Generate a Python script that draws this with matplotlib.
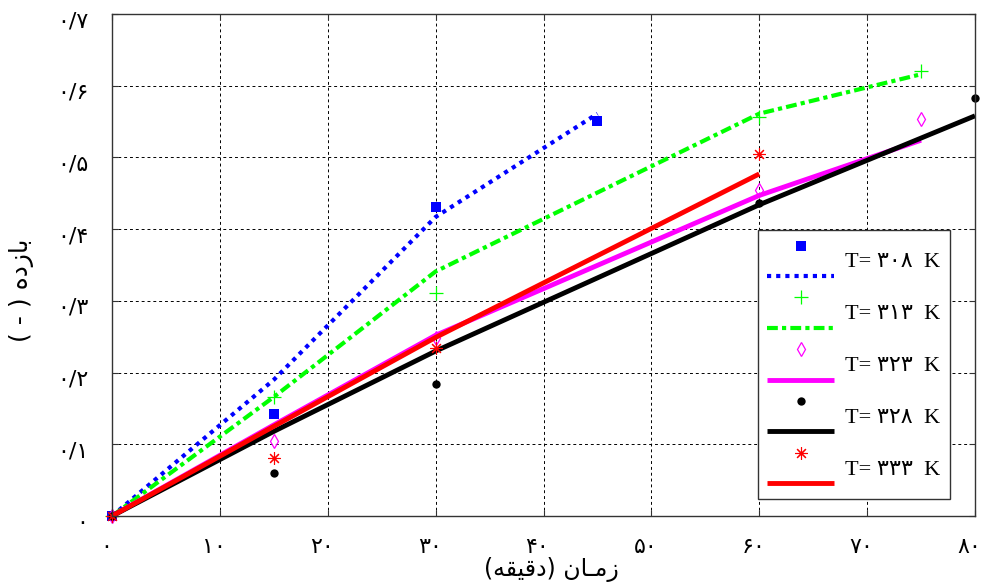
import numpy as np
import matplotlib
matplotlib.use('Agg')
import matplotlib.pyplot as plt
from matplotlib.lines import Line2D
from matplotlib.legend_handler import HandlerBase
from matplotlib.transforms import ScaledTranslation

# ---------- data ----------
t_308 = [0, 15, 30, 45]
exp_308 = [0, 0.142, 0.431, 0.551]
fit_308 = [0, 0.190, 0.417, 0.561]

t_313 = [0, 15, 30, 60, 75]
exp_313 = [0, 0.166, 0.311, 0.556, 0.621]
fit_313 = [0, 0.166, 0.341, 0.561, 0.616]

t_323 = [0, 15, 30, 60, 75]
exp_323 = [0, 0.104, 0.248, 0.454, 0.554]
fit_323 = [0, 0.127, 0.252, 0.447, 0.524]

t_328 = [0, 15, 30, 60, 80]
exp_328 = [0, 0.060, 0.184, 0.436, 0.583]
fit_328 = [0, 0.118, 0.230, 0.434, 0.558]

t_333 = [0, 15, 30, 60]
exp_333 = [0, 0.081, 0.234, 0.505]
fit_333 = [0, 0.125, 0.249, 0.477]

legend_labels = ['T= ۳۰۸  K', 'T= ۳۱۳  K', 'T= ۳۲۳  K', 'T= ۳۲۸  K', 'T= ۳۳۳  K']

x_ticks = [0, 10, 20, 30, 40, 50, 60, 70, 80]
x_tick_labels = ['۰', '۱۰', '۲۰', '۳۰', '۴۰', '۵۰', '۶۰', '۷۰', '۸۰']
y_ticks = [0, 0.1, 0.2, 0.3, 0.4, 0.5, 0.6, 0.7]
y_tick_labels = ['۰', '۰/۱', '۰/۲', '۰/۳', '۰/۴', '۰/۵', '۰/۶', '۰/۷']

# matplotlib has no bidi/shaping, so the Persian labels are written
# in visual order with presentation forms
x_label = '(\uFEEA\uFED8\uFEF4\uFED7\uFEA9) \uFEE5\uFE8E\u0640\uFEE3\uFEAF'   # زمان (دقیقه)
y_label = '( - ) \uFEE9\uFEA9\uFEAF\uFE8E\uFE91'                              # بازده ( - )


class MarkerAboveLine(HandlerBase):
    # MATLAB style legend entry: marker on one row, line on the next
    def create_artists(self, legend, orig_handle, xdescent, ydescent,
                       width, height, fontsize, trans):
        mk, ln = orig_handle
        x0, y0 = -xdescent, -ydescent
        a = Line2D([x0 + width / 2], [y0 + height * 0.855])
        a.update_from(mk)
        a.set_linestyle('none')
        a.set_clip_on(False)
        a.set_transform(trans)
        b = Line2D([x0, x0 + width], [y0 + height * 0.145] * 2)
        b.update_from(ln)
        b.set_marker('none')
        b.set_transform(trans)
        return [a, b]


fig = plt.figure(figsize=(9.82, 5.87), dpi=100)
ax = fig.add_axes([112 / 982, 1 - 516 / 587, 863 / 982, 502 / 587])

series = [
    (t_308, exp_308, fit_308, dict(color='#0000ff', marker='s', ms=7, mfc='#0000ff', mew=0),
     dict(color='#0000ff', lw=3, ls=(0, (1, 1.2)))),
    (t_313, exp_313, fit_313, dict(color='#00ff00', marker='+', ms=10, mew=0.9),
     dict(color='#00ff00', lw=3, ls=(0, (2.6, 1, 1, 1)))),
    (t_323, exp_323, fit_323, dict(color='#ff00ff', marker='d', ms=7, mfc='none', mew=0.9),
     dict(color='#ff00ff', lw=3.5, ls='-')),
    (t_328, exp_328, fit_328, dict(color='black', marker='o', ms=6, mfc='black', mew=0),
     dict(color='black', lw=3.5, ls='-')),
    (t_333, exp_333, fit_333, dict(color='#ff0000', marker=(8, 2, 0), ms=9, mew=0.8),
     dict(color='#ff0000', lw=3.5, ls='-')),
]

handles = []
for t, ye, yf, mkw, lkw in series:
    mk, = ax.plot(t, ye, linestyle='none', clip_on=False, **mkw)
    ln, = ax.plot(t, yf, solid_capstyle='butt', **lkw)
    handles.append((mk, ln))

ax.set_xlim(0, 80)
ax.set_ylim(0, 0.7)
ax.set_xticks(x_ticks)
ax.set_xticklabels(x_tick_labels, family=['DejaVu Sans'], fontsize=16)
ax.set_yticks(y_ticks)
ax.set_yticklabels(y_tick_labels, family=['DejaVu Sans'], fontsize=16)
ax.tick_params(direction='in', length=4, width=0.8, top=True, right=True, color='#333333')
ax.tick_params(axis='y', pad=17)
ax.tick_params(axis='x', pad=15)

for lab in ax.get_yticklabels():
    lab.set_transform(lab.get_transform() + ScaledTranslation(0, -0.05, fig.dpi_scale_trans))
for lab in ax.get_xticklabels():
    lab.set_transform(lab.get_transform() + ScaledTranslation(-0.06, 0, fig.dpi_scale_trans))

ax.grid(True, color='black', linestyle=(0, (3, 3)), linewidth=0.7)
ax.set_axisbelow(True)
for s in ax.spines.values():
    s.set_color('#333333')
    s.set_linewidth(1)

fig.text(551 / 982, 1 - 569 / 587, x_label, ha='center', va='center',
         family=['DejaVu Sans'], fontsize=17)
fig.text(22 / 982, 1 - 290 / 587, y_label, ha='center', va='center', rotation=90,
         family=['DejaVu Sans'], fontsize=18)

leg = ax.legend(handles=handles, labels=legend_labels,
                handler_map={tuple: MarkerAboveLine()},
                loc='upper left', bbox_to_anchor=(0.7486, 0.5697), borderaxespad=0,
                prop={'family': ['Liberation Serif', 'DejaVu Sans'], 'size': 16},
                handlelength=3.0, handleheight=2.57, labelspacing=0.42,
                handletextpad=0.5, borderpad=0.42, fancybox=False, framealpha=1)
leg.get_frame().set_edgecolor('#333333')
leg.get_frame().set_linewidth(1)

fig.savefig('out.png', dpi=100)
